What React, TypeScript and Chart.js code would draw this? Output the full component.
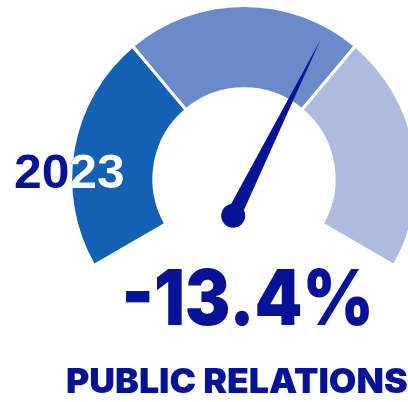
import React, { useEffect, useRef } from "react";
import { Chart, registerables } from "chart.js";

Chart.register(...registerables);

const segmentLabels = ["Low", "Mid", "High"];
const segmentValues = [1, 1, 1];
const segmentColors = ["#1360B5", "#6B8ACB", "#AFBAE0"];
const needleValue = 1.83;
const yearLabel = "2023";
const valueLabel = "-13.4%";
const categoryLabel = "PUBLIC RELATIONS";

const DARK = "#061396";

function drawFitted(
  ctx: CanvasRenderingContext2D,
  text: string,
  font: string,
  color: string,
  left: number,
  baseline: number,
  targetWidth: number
) {
  ctx.save();
  ctx.font = font;
  ctx.fillStyle = color;
  ctx.textAlign = "left";
  ctx.textBaseline = "alphabetic";
  const m = ctx.measureText(text);
  const w = m.actualBoundingBoxRight + m.actualBoundingBoxLeft;
  const sx = targetWidth / w;
  ctx.translate(left, baseline);
  ctx.scale(sx, 1);
  ctx.fillText(text, m.actualBoundingBoxLeft, 0);
  ctx.restore();
}

const gaugePlugin = {
  id: "gaugeDecor",
  afterDraw(chart: any) {
    const ctx: CanvasRenderingContext2D = chart.ctx;
    const meta = chart.getDatasetMeta(0);
    const first = meta.data[0] as any;
    if (!first) return;
    const cx = first.x;
    const cy = first.y;
    const inner = first.innerRadius;
    const outer = first.outerRadius;
    const total = segmentValues.reduce((a, b) => a + b, 0);
    const startAngle = first.startAngle;
    const lastEl = meta.data[meta.data.length - 1] as any;
    const span = lastEl.endAngle - startAngle;
    const ang = startAngle + (needleValue / total) * span;

    // needle
    const px = cx - inner * 0.12;
    const py = cy + inner * 0.41;
    const len = outer * 1.13;
    const tx = px + Math.cos(ang) * len;
    const ty = py + Math.sin(ang) * len;
    const nx = -Math.sin(ang);
    const ny = Math.cos(ang);
    const hw = 7.5;
    ctx.save();
    ctx.fillStyle = DARK;
    ctx.beginPath();
    ctx.moveTo(px + nx * hw, py + ny * hw);
    ctx.lineTo(tx, ty);
    ctx.lineTo(px - nx * hw, py - ny * hw);
    ctx.closePath();
    ctx.fill();
    ctx.beginPath();
    ctx.arc(px, py, 12, 0, Math.PI * 2);
    ctx.fill();
    ctx.restore();

    // year label: dark outside the first segment, white inside
    const yearFont = "bold 48px 'Liberation Sans', Arial, sans-serif";
    drawFitted(ctx, yearLabel, yearFont, DARK, 15, 188, 108);
    ctx.save();
    ctx.beginPath();
    ctx.arc(cx, cy, first.outerRadius, first.startAngle, first.endAngle);
    ctx.arc(cx, cy, first.innerRadius, first.endAngle, first.startAngle, true);
    ctx.closePath();
    ctx.clip();
    drawFitted(ctx, yearLabel, yearFont, "#FFFFFF", 15, 188, 108);
    ctx.restore();

    drawFitted(ctx, valueLabel, "900 77px Inter, sans-serif", DARK, 126, 325, 243);
    drawFitted(ctx, categoryLabel, "900 34px Inter, sans-serif", DARK, 67, 393, 340);
  },
};

export default function App() {
  const ref = useRef<HTMLCanvasElement | null>(null);
  useEffect(() => {
    if (!ref.current) return;
    const chart = new Chart(ref.current, {
      type: "doughnut",
      data: {
        labels: segmentLabels,
        datasets: [
          {
            data: segmentValues,
            backgroundColor: segmentColors,
            borderColor: "#FFFFFF",
            borderWidth: 3,
          },
        ],
      },
      options: {
        responsive: false,
        animation: false,
        rotation: -120,
        circumference: 240,
        cutout: "52%",
        events: [],
        layout: { padding: { left: 60, right: 12, top: 4, bottom: 135 } },
        plugins: {
          legend: { display: false },
          tooltip: { enabled: false },
        },
      },
      plugins: [gaugePlugin],
    });
    return () => chart.destroy();
  }, []);
  return (
    <div
      style={{
        position: "fixed",
        left: 0,
        top: 0,
        width: 408,
        height: 402,
        overflow: "hidden",
        background: "#FFFFFF",
      }}
    >
      <canvas ref={ref} width={440} height={402} style={{ display: "block" }} />
    </div>
  );
}
